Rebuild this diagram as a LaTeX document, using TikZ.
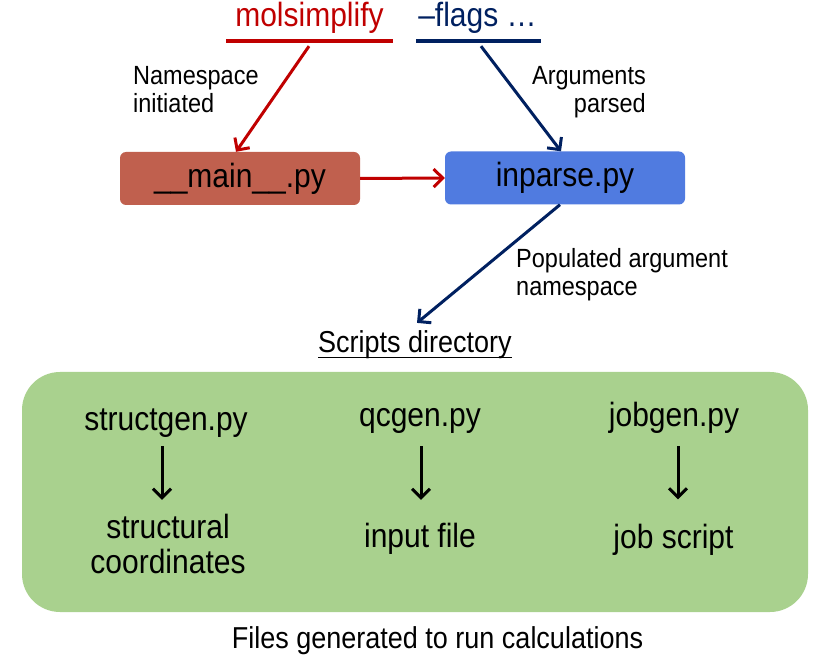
\documentclass[tikz,border=0pt]{standalone}
\usepackage{graphicx}
\usepackage{fontspec}
\setmainfont{Liberation Sans}
\usetikzlibrary{arrows.meta}
\definecolor{myred}{HTML}{C00000}
\definecolor{mynavy}{HTML}{002060}
\definecolor{boxred}{HTML}{C0604E}
\definecolor{boxblue}{HTML}{507BE0}
\definecolor{boxgreen}{HTML}{A9D18E}
\newcommand{\vst}[1]{\scalebox{1}[1.12]{#1}}
\tikzset{
  bigtxt/.style={font=\fontsize{30}{31.25}\selectfont, inner sep=0pt},
  lbl/.style={font=\fontsize{23.5}{25}\selectfont, inner sep=0pt},
  midtxt/.style={font=\fontsize{27}{30}\selectfont, inner sep=0pt},
  arr/.style={line width=3pt, -{Straight Barb[length=9pt,width=18pt]}},
  pybox/.style={bigtxt, rounded corners=6pt, minimum width=240pt, minimum height=53pt},
  gbox/.style={fill=boxgreen, rounded corners=38pt, minimum width=786pt, minimum height=240pt, inner sep=0pt},
}
\begin{document}
\begin{tikzpicture}[x=1pt,y=-1pt]
\useasboundingbox (0,0) rectangle (823,663);
% green container
\node[gbox] (green) at (415,492) {};
% top words
\node[bigtxt, anchor=base, text=myred] (mol) at (309.5,27) {\vst{molsimplify}};
\node[bigtxt, anchor=base, text=mynavy] (flags) at (477.5,27) {\vst{–flags …}};
\coordinate (molL) at (226,41);
\coordinate (molR) at (393,41);
\coordinate (flagL) at (416,41);
\coordinate (flagR) at (541,41);
\draw[myred, line width=3.5pt] (molL) -- (molR);
\draw[mynavy, line width=3.5pt] (flagL) -- (flagR);
% boxes
\node[pybox, fill=boxred] (main) at (240,178.5) {\vst{\_\_main\_\_.py}};
\node[pybox, fill=boxblue] (inparse) at (565,178) {\vst{inparse.py}};
% labels
\node[lbl, anchor=base west] (ns) at (133,85) {\vst{\begin{tabular}[t]{@{}l@{}}Namespace\\initiated\end{tabular}}};
\node[lbl, anchor=base east] (args) at (646,85) {\vst{\begin{tabular}[t]{@{}r@{}}Arguments\\parsed\end{tabular}}};
\node[lbl, anchor=base west] (pop) at (516,268) {\vst{\begin{tabular}[t]{@{}l@{}}Populated argument\\namespace\end{tabular}}};
\node[midtxt, anchor=base] (scripts) at (415,353) {\vst{Scripts directory}};
\draw[line width=1.8pt] ([yshift=-4.5pt]scripts.base west) -- ([yshift=-4.5pt]scripts.base east);
% connectors top
\draw[arr, myred] ([xshift=-0.5pt,yshift=-12pt]mol.south) -- ([xshift=-4pt]main.north);
\draw[arr, mynavy] ([xshift=3.5pt,yshift=-12pt]flags.south) -- ([xshift=-4pt]inparse.north);
\draw[arr, myred] (main.east) -- (inparse.west);
\draw[arr, mynavy] ([xshift=-5pt]inparse.south) -- ([xshift=2pt,yshift=8pt]scripts.north);
% green content
\node[bigtxt, anchor=base] (sg) at (166,430) {\vst{structgen.py}};
\node[bigtxt, anchor=base] (sc) at (168,538) {\vst{\begin{tabular}[t]{@{}c@{}}structural\\coordinates\end{tabular}}};
\node[bigtxt, anchor=base] (qc) at (420,427) {\vst{qcgen.py}};
\node[bigtxt, anchor=base] (inf) at (420,547) {\vst{input file}};
\node[bigtxt, anchor=base] (jg) at (674,427) {\vst{jobgen.py}};
\node[bigtxt, anchor=base] (js) at (673.5,548) {\vst{job script}};
\draw[arr, black] ([xshift=-4pt,yshift=-9pt]sg.south) -- ([xshift=-6pt,yshift=13.5pt]sc.north);
\draw[arr, black] ([xshift=1pt,yshift=-12pt]qc.south) -- ([xshift=1pt,yshift=22.5pt]inf.north);
\draw[arr, black] ([xshift=4pt,yshift=-12pt]jg.south) -- ([xshift=4.5pt,yshift=24pt]js.north);
% bottom caption
\node[midtxt, anchor=base] (files) at (437.5,648) {\vst{Files generated to run calculations}};
\end{tikzpicture}
\end{document}
